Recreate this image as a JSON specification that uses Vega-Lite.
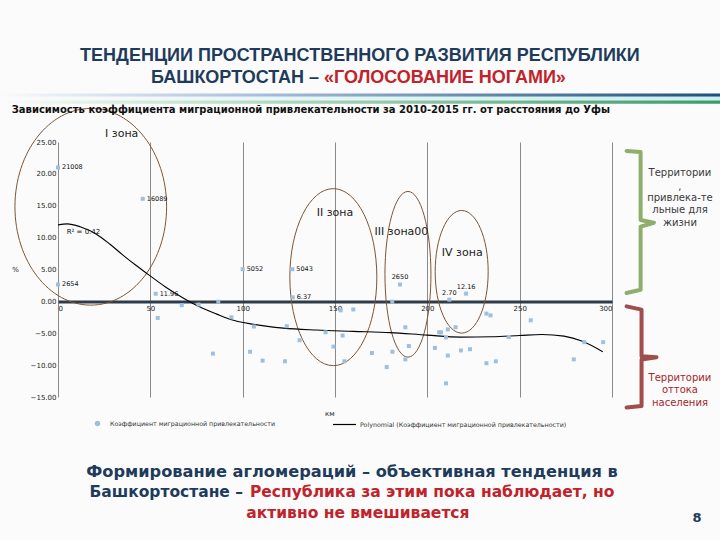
{
  "$schema": "https://vega.github.io/schema/vega-lite/v6.json",
  "width": 554,
  "height": 255,
  "autosize": {"type": "none"},
  "padding": {"left": 58, "top": 142, "right": 108, "bottom": 143},
  "background": "#fbfbfb",
  "config": {"view": {"stroke": null}, "text": {"font": "DejaVu Sans"}, "axis": {"labelFont": "DejaVu Sans", "titleFont": "DejaVu Sans"}},
  "datasets": {
    "pts": [
      {"km": 0, "val": 21.008, "lbl": "21008"},
      {"km": 0, "val": 2.654, "lbl": "2654"},
      {"km": 45.9, "val": 16.089, "lbl": "16089"},
      {"km": 52.9, "val": 1.196, "lbl": "11.96"},
      {"km": 54, "val": -2.6},
      {"km": 67, "val": -0.6},
      {"km": 76.1, "val": -0.5},
      {"km": 86.8, "val": -0.05},
      {"km": 83.9, "val": -8.2},
      {"km": 93.9, "val": -2.5},
      {"km": 100, "val": 5.052, "lbl": "5052"},
      {"km": 104, "val": -7.9},
      {"km": 106.1, "val": -3.95},
      {"km": 110.8, "val": -9.3},
      {"km": 122.9, "val": -9.4},
      {"km": 123.9, "val": -3.9},
      {"km": 126.9, "val": 5.043, "lbl": "5043"},
      {"km": 127.1, "val": 0.637, "lbl": "6.37"},
      {"km": 130.8, "val": -6.1},
      {"km": 144.9, "val": -4.85},
      {"km": 149.2, "val": -7.1},
      {"km": 154.1, "val": -5.36},
      {"km": 153.1, "val": -1.4},
      {"km": 159.9, "val": -1.27},
      {"km": 155.1, "val": -9.4},
      {"km": 170, "val": -8.1},
      {"km": 178, "val": -10.3},
      {"km": 181, "val": -0.05},
      {"km": 181.1, "val": -7.9},
      {"km": 185.2, "val": 2.65, "lbl": "2650"},
      {"km": 188.1, "val": -4.06},
      {"km": 190, "val": -7.0},
      {"km": 188.1, "val": -9.1},
      {"km": 204.1, "val": -7.3},
      {"km": 206.4, "val": -4.85},
      {"km": 207.4, "val": -4.85},
      {"km": 210.1, "val": -5.64},
      {"km": 211.1, "val": -4.4},
      {"km": 215.3, "val": -4.06},
      {"km": 211.1, "val": -8.5},
      {"km": 218.2, "val": -7.7},
      {"km": 223.1, "val": -7.5},
      {"km": 210.1, "val": -12.86},
      {"km": 211.9, "val": 0.27, "lbl": "2.70"},
      {"km": 221, "val": 1.216, "lbl": "12.16"},
      {"km": 232, "val": -1.92},
      {"km": 234.2, "val": -2.19},
      {"km": 232, "val": -9.7},
      {"km": 237.1, "val": -9.4},
      {"km": 244.1, "val": -5.6},
      {"km": 256, "val": -2.97},
      {"km": 279.3, "val": -9.1},
      {"km": 285, "val": -6.4},
      {"km": 295.2, "val": -6.4}
    ],
    "trend": [
      {"km": 0, "val": 12.0}, {"km": 5, "val": 12.15}, {"km": 12, "val": 11.7},
      {"km": 21, "val": 10.5}, {"km": 28, "val": 9.0}, {"km": 35, "val": 7.3},
      {"km": 42, "val": 5.7}, {"km": 49, "val": 4.2}, {"km": 58, "val": 2.3},
      {"km": 68, "val": 0.5}, {"km": 77, "val": -0.9}, {"km": 86, "val": -2.0},
      {"km": 93, "val": -2.8}, {"km": 106, "val": -3.6}, {"km": 122, "val": -4.2},
      {"km": 140, "val": -4.5}, {"km": 160, "val": -4.7}, {"km": 180, "val": -4.9},
      {"km": 200, "val": -5.3}, {"km": 218, "val": -5.6}, {"km": 235, "val": -5.55},
      {"km": 250, "val": -5.35}, {"km": 262, "val": -5.2}, {"km": 274, "val": -5.45},
      {"km": 284, "val": -6.25}, {"km": 295, "val": -7.9}
    ],
    "stripes": [
      {"km": -31.4, "km2": 358.6, "val": 32.6, "val2": 32.1, "s": "blue"},
      {"km": -31.4, "km2": 358.6, "val": 32.1, "val2": 31.5, "s": "cyan"},
      {"km": -31.4, "km2": 358.6, "val": 31.5, "val2": 31.0, "s": "green"}
    ],
    "brackets": [
      {"g": "up", "i": 1, "km": 307.9, "val": 23.59},
      {"g": "up", "i": 2, "km": 315.5, "val": 23.44},
      {"g": "up", "i": 3, "km": 315.5, "val": 12.77},
      {"g": "up", "i": 4, "km": 322.7, "val": 12.34},
      {"g": "up", "i": 5, "km": 315.5, "val": 11.72},
      {"g": "up", "i": 6, "km": 315.5, "val": 1.83},
      {"g": "up", "i": 7, "km": 307.9, "val": 1.31},
      {"g": "down", "i": 1, "km": 307.9, "val": -0.78},
      {"g": "down", "i": 2, "km": 316.0, "val": -1.3},
      {"g": "down", "i": 3, "km": 316.0, "val": -8.59},
      {"g": "down", "i": 4, "km": 324.1, "val": -8.75},
      {"g": "down", "i": 5, "km": 316.0, "val": -9.11},
      {"g": "down", "i": 6, "km": 316.0, "val": -16.4},
      {"g": "down", "i": 7, "km": 307.9, "val": -16.66}
    ]
  },
  "encoding": {
    "x": {
      "field": "km", "type": "quantitative",
      "scale": {"domain": [0, 300], "nice": false, "zero": false},
      "axis": {"title": null, "values": [0, 50, 100, 150, 200, 250, 300], "format": "d", "grid": true, "gridColor": "#8a8a8a", "gridWidth": 1, "ticks": false, "domainColor": "#2e3b48", "domainWidth": 3, "offset": -95.6, "labelFontSize": 7, "labelPadding": 3, "labelColor": "#222222"}
    },
    "y": {
      "field": "val", "type": "quantitative",
      "scale": {"domain": [-15, 25], "nice": false},
      "axis": {"title": "%", "titleAngle": 0, "titleX": -43, "titleY": 127, "titleFontSize": 7, "titleFontWeight": "normal", "titleAlign": "center", "titleBaseline": "middle", "titleColor": "#222222", "values": [-15, -10, -5, 0, 5, 10, 15, 20, 25], "format": ".2f", "domain": false, "ticks": false, "grid": false, "labelFontSize": 7, "labelPadding": 2, "labelColor": "#222222"}
    }
  },
  "layer": [
    {
      "data": {"name": "stripes"},
      "transform": [{"filter": "datum.s === 'blue'"}],
      "mark": {"type": "rect", "color": {"gradient": "linear", "x1": 0, "y1": 0, "x2": 1, "y2": 0, "stops": [{"offset": 0, "color": "#fbfbfb"}, {"offset": 0.35, "color": "#a9c0dc"}, {"offset": 1, "color": "#1f4f7d"}]}},
      "encoding": {"x2": {"field": "km2"}, "y2": {"field": "val2"}}
    },
    {
      "data": {"name": "stripes"},
      "transform": [{"filter": "datum.s === 'cyan'"}],
      "mark": {"type": "rect", "color": {"gradient": "linear", "x1": 0, "y1": 0, "x2": 1, "y2": 0, "stops": [{"offset": 0, "color": "#fbfbfb"}, {"offset": 1, "color": "#c9f0ef"}]}},
      "encoding": {"x2": {"field": "km2"}, "y2": {"field": "val2"}}
    },
    {
      "data": {"name": "stripes"},
      "transform": [{"filter": "datum.s === 'green'"}],
      "mark": {"type": "rect", "color": {"gradient": "linear", "x1": 0, "y1": 0, "x2": 1, "y2": 0, "stops": [{"offset": 0, "color": "#fbfbfb"}, {"offset": 0.35, "color": "#b5dcc4"}, {"offset": 1, "color": "#3d9a68"}]}},
      "encoding": {"x2": {"field": "km2"}, "y2": {"field": "val2"}}
    },
    {
      "data": {"values": [{"km": 17.75, "val": 14.84}]},
      "mark": {"type": "point", "filled": false, "opacity": 1, "stroke": "#7d5533", "strokeWidth": 1, "size": 38691,
        "shape": "M0.771,0C0.771,0.5523,0.4258,1,0,1C-0.4258,1,-0.771,0.5523,-0.771,0C-0.771,-0.5523,-0.4258,-1,0,-1C0.4258,-1,0.771,-0.5523,0.771,0Z"}
    },
    {
      "data": {"values": [{"km": 149.1, "val": 3.8}]},
      "mark": {"type": "point", "filled": false, "opacity": 1, "stroke": "#7d5533", "strokeWidth": 1, "size": 31329,
        "shape": "M0.4915,0C0.4915,0.5523,0.2715,1,0,1C-0.2715,1,-0.4915,0.5523,-0.4915,0C-0.4915,-0.5523,-0.2715,-1,0,-1C0.2715,-1,0.4915,-0.5523,0.4915,0Z"}
    },
    {
      "data": {"values": [{"km": 189.5, "val": 4.25}]},
      "mark": {"type": "point", "filled": false, "opacity": 1, "stroke": "#7d5533", "strokeWidth": 1, "size": 27456,
        "shape": "M0.2776,0C0.2776,0.5523,0.1533,1,0,1C-0.1533,1,-0.2776,0.5523,-0.2776,0C-0.2776,-0.5523,-0.1533,-1,0,-1C0.1533,-1,0.2776,-0.5523,0.2776,0Z"}
    },
    {
      "data": {"values": [{"km": 218.6, "val": 4.64}]},
      "mark": {"type": "point", "filled": false, "opacity": 1, "stroke": "#7d5533", "strokeWidth": 1, "size": 15031,
        "shape": "M0.4323,0C0.4323,0.5523,0.2388,1,0,1C-0.2388,1,-0.4323,0.5523,-0.4323,0C-0.4323,-0.5523,-0.2388,-1,0,-1C0.2388,-1,0.4323,-0.5523,0.4323,0Z"}
    },
    {
      "data": {"name": "trend"},
      "mark": {"type": "line", "interpolate": "monotone", "strokeWidth": 1.1},
      "encoding": {
        "stroke": {"datum": "Polynomial (Коэффициент миграционной привлекательности)", "type": "nominal", "scale": {"range": ["#000000"]},
          "legend": {"title": null, "orient": "none", "legendX": 274, "legendY": 270, "symbolType": "stroke", "symbolSize": 529, "symbolStrokeWidth": 1.2, "labelFontSize": 6.3, "labelFont": "DejaVu Sans", "labelColor": "#333333", "labelOffset": 3, "labelLimit": 500, "padding": 0}}
      }
    },
    {
      "data": {"name": "pts"},
      "mark": {"type": "point", "shape": "square", "filled": true, "size": 16, "opacity": 1},
      "encoding": {
        "color": {"datum": "Коэффициент миграционной привлекательности", "type": "nominal", "scale": {"range": ["#9fc0dc"]},
          "legend": {"title": null, "orient": "none", "legendX": 36, "legendY": 278, "symbolType": "circle", "symbolSize": 30, "labelFontSize": 6.3, "labelFont": "DejaVu Sans", "labelColor": "#333333", "labelOffset": 9, "labelLimit": 500, "padding": 0}}
      }
    },
    {
      "data": {"name": "pts"},
      "transform": [{"filter": "datum.lbl && datum.km <= 180"}],
      "mark": {"type": "text", "align": "left", "baseline": "middle", "dx": 4, "fontSize": 6.5, "color": "#111111"},
      "encoding": {"text": {"field": "lbl"}}
    },
    {
      "data": {"name": "pts"},
      "transform": [{"filter": "datum.lbl && datum.km > 180"}],
      "mark": {"type": "text", "align": "center", "baseline": "bottom", "dy": -4, "fontSize": 6.5, "color": "#111111"},
      "encoding": {"text": {"field": "lbl"}}
    },
    {
      "data": {"values": [
        {"km": 34.5, "val": 26.3, "t": "I зона"},
        {"km": 150, "val": 13.8, "t": "II зона"},
        {"km": 186, "val": 10.84, "t": "III зона00"},
        {"km": 218.9, "val": 7.66, "t": "IV зона"}
      ]},
      "mark": {"type": "text", "align": "center", "baseline": "middle", "fontSize": 11, "color": "#1a1a1a"},
      "encoding": {"text": {"field": "t"}}
    },
    {
      "data": {"values": [{"km": 4.7, "val": 10.94, "t": "R² = 0.42"}, {"km": 144.6, "val": -17.7, "t": "км"}]},
      "mark": {"type": "text", "align": "left", "baseline": "middle", "fontSize": 7, "color": "#111111"},
      "encoding": {"text": {"field": "t"}}
    },
    {
      "data": {"values": [{"km": -25.07, "val": 29.95, "t": "Зависимость коэффициента миграционной привлекательности за 2010-2015 гг. от расстояния до Уфы"}]},
      "mark": {"type": "text", "align": "left", "baseline": "middle", "fontSize": 10, "fontWeight": "bold", "color": "#111111"},
      "encoding": {"text": {"field": "t"}}
    },
    {
      "data": {"values": [
        {"km": 163.5, "val": 38.55, "t": "ТЕНДЕНЦИИ ПРОСТРАНСТВЕННОГО РАЗВИТИЯ РЕСПУБЛИКИ"}
      ]},
      "mark": {"type": "text", "align": "center", "baseline": "middle", "font": "Liberation Sans", "fontSize": 18, "fontWeight": "bold", "color": "#1f3b5c"},
      "encoding": {"text": {"field": "t"}}
    },
    {
      "data": {"values": [{"km": 141.4, "val": 35.11, "t": "БАШКОРТОСТАН –"}]},
      "mark": {"type": "text", "align": "right", "baseline": "middle", "font": "Liberation Sans", "fontSize": 18, "fontWeight": "bold", "color": "#1f3b5c"},
      "encoding": {"text": {"field": "t"}}
    },
    {
      "data": {"values": [{"km": 144.1, "val": 35.11, "t": "«ГОЛОСОВАНИЕ НОГАМИ»"}]},
      "mark": {"type": "text", "align": "left", "baseline": "middle", "font": "Liberation Sans", "fontSize": 18, "fontWeight": "bold", "color": "#c0232b"},
      "encoding": {"text": {"field": "t"}}
    },
    {
      "data": {"values": [
        {"km": 336.8, "val": 20.06, "t": "Территории"},
        {"km": 336.8, "val": 17.92, "t": ","},
        {"km": 336.8, "val": 16.25, "t": "привлека-те"},
        {"km": 336.8, "val": 14.33, "t": "льные для"},
        {"km": 336.8, "val": 12.34, "t": "жизни"}
      ]},
      "mark": {"type": "text", "align": "center", "baseline": "middle", "fontSize": 10, "color": "#3a3a3a"},
      "encoding": {"text": {"field": "t"}}
    },
    {
      "data": {"values": [
        {"km": 336.8, "val": -11.97, "t": "Территории"},
        {"km": 336.8, "val": -13.9, "t": "оттока"},
        {"km": 336.8, "val": -15.88, "t": "населения"}
      ]},
      "mark": {"type": "text", "align": "center", "baseline": "middle", "fontSize": 10, "color": "#a3262a"},
      "encoding": {"text": {"field": "t"}}
    },
    {
      "data": {"name": "brackets"},
      "transform": [{"filter": "datum.g === 'up'"}],
      "mark": {"type": "line", "color": "#8fae6b", "strokeWidth": 4, "strokeJoin": "round", "strokeCap": "round"},
      "encoding": {"order": {"field": "i", "type": "quantitative"}}
    },
    {
      "data": {"name": "brackets"},
      "transform": [{"filter": "datum.g === 'down'"}],
      "mark": {"type": "line", "color": "#a04d4c", "strokeWidth": 4, "strokeJoin": "round", "strokeCap": "round"},
      "encoding": {"order": {"field": "i", "type": "quantitative"}}
    },
    {
      "data": {"values": [{"km": 159.2, "val": -26.77, "t": "Формирование агломераций – объективная тенденция в"}]},
      "mark": {"type": "text", "align": "center", "baseline": "middle", "fontSize": 16.2, "fontWeight": "bold", "color": "#1f3b5c"},
      "encoding": {"text": {"field": "t"}}
    },
    {
      "data": {"values": [{"km": 100.2, "val": -29.89, "t": "Башкортостане –"}]},
      "mark": {"type": "text", "align": "right", "baseline": "middle", "fontSize": 15.5, "fontWeight": "bold", "color": "#1f3b5c"},
      "encoding": {"text": {"field": "t"}}
    },
    {
      "data": {"values": [
        {"km": 103.95, "val": -29.89, "t": "Республика за этим пока наблюдает, но"}
      ]},
      "mark": {"type": "text", "align": "left", "baseline": "middle", "fontSize": 15.5, "fontWeight": "bold", "color": "#c0232b"},
      "encoding": {"text": {"field": "t"}}
    },
    {
      "data": {"values": [{"km": 162.4, "val": -33.17, "t": "активно не вмешивается"}]},
      "mark": {"type": "text", "align": "center", "baseline": "middle", "fontSize": 15.5, "fontWeight": "bold", "color": "#c0232b"},
      "encoding": {"text": {"field": "t"}}
    },
    {
      "data": {"values": [{"km": 346.0, "val": -33.95, "t": "8"}]},
      "mark": {"type": "text", "align": "center", "baseline": "middle", "fontSize": 13, "fontWeight": "bold", "color": "#1f3b5c"},
      "encoding": {"text": {"field": "t"}}
    }
  ]
}
